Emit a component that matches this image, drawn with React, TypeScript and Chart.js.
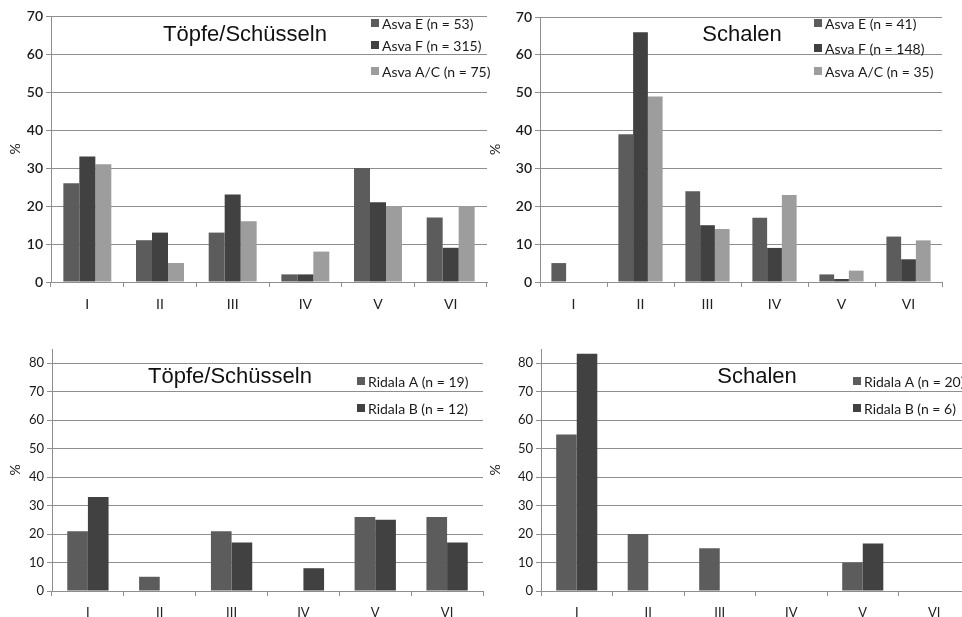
import React, { useEffect, useRef } from "react";
import { Chart, registerables } from "chart.js";

Chart.register(...registerables);

const categories = ["I", "II", "III", "IV", "V", "VI"];

// Top-left: Töpfe/Schüsseln (Asva)
const potsAsvaE = [26, 11, 13, 2, 30, 17];
const potsAsvaF = [33, 13, 23, 2, 21, 9];
const potsAsvaAC = [31, 5, 16, 8, 20, 20];
// Top-right: Schalen (Asva)
const bowlsAsvaE = [5, 39, 24, 17, 2, 12];
const bowlsAsvaF = [0, 66, 15, 9, 0.8, 6];
const bowlsAsvaAC = [0, 49, 14, 23, 3, 11];
// Bottom-left: Töpfe/Schüsseln (Ridala)
const potsRidalaA = [21, 5, 21, 0, 26, 26];
const potsRidalaB = [33, 0, 17, 8, 25, 17];
// Bottom-right: Schalen (Ridala)
const bowlsRidalaA = [55, 20, 15, 0, 10, 0];
const bowlsRidalaB = [83.3, 0, 0, 0, 16.7, 0];

const yTicksTop = [0, 10, 20, 30, 40, 50, 60, 70];
const yTicksBottom = [0, 10, 20, 30, 40, 50, 60, 70, 80];

const C_E = "#5c5c5c";
const C_F = "#414141";
const C_AC = "#9d9d9d";
const GRID = "#8e8e8e";

type PanelCfg = {
  left: number;
  top: number;
  w: number;
  h: number;
  ca: { l: number; t: number; r: number; b: number };
  yMax: number;
  yTicks: number[];
  title: string;
  titleX: number;
  titleY: number;
  legendX: number;
  legendRows: number[];
  legendFont: number;
  tickFont: number;
  yTickWeight: string;
  xPad: number;
  catPct: number;
  datasets: { label: string; data: number[]; color: string }[];
};

const panels: PanelCfg[] = [
  {
    left: 0, top: 0, w: 500, h: 310,
    ca: { l: 51, t: 16, r: 487, b: 282 },
    yMax: 70, yTicks: yTicksTop,
    title: "Töpfe/Schüsseln", titleX: 245, titleY: 35,
    legendX: 371, legendRows: [23, 45, 71], legendFont: 14,
    tickFont: 14, yTickWeight: "600", xPad: 9,
    catPct: 0.66,
    datasets: [
      { label: "Asva E (n = 53)", data: potsAsvaE, color: C_E },
      { label: "Asva F (n = 315)", data: potsAsvaF, color: C_F },
      { label: "Asva A/C (n = 75)", data: potsAsvaAC, color: C_AC },
    ],
  },
  {
    left: 480, top: 0, w: 482, h: 310,
    ca: { l: 60, t: 17, r: 462, b: 282 },
    yMax: 70, yTicks: yTicksTop,
    title: "Schalen", titleX: 262, titleY: 35,
    legendX: 334, legendRows: [23, 48, 71], legendFont: 14,
    tickFont: 14, yTickWeight: "600", xPad: 9,
    catPct: 0.66,
    datasets: [
      { label: "Asva E (n = 41)", data: bowlsAsvaE, color: C_E },
      { label: "Asva F (n = 148)", data: bowlsAsvaF, color: C_F },
      { label: "Asva A/C (n = 35)", data: bowlsAsvaAC, color: C_AC },
    ],
  },
  {
    left: 0, top: 310, w: 490, h: 307,
    ca: { l: 52, t: 39, r: 483, b: 281 },
    yMax: 85, yTicks: yTicksBottom,
    title: "Töpfe/Schüsseln", titleX: 230, titleY: 67,
    legendX: 357, legendRows: [71, 98], legendFont: 14,
    tickFont: 13, yTickWeight: "normal", xPad: 9,
    catPct: 0.575,
    datasets: [
      { label: "Ridala A (n = 19)", data: potsRidalaA, color: C_E },
      { label: "Ridala B (n = 12)", data: potsRidalaB, color: C_F },
    ],
  },
  {
    left: 480, top: 310, w: 492, h: 307,
    ca: { l: 61, t: 39, r: 490, b: 281 },
    yMax: 85, yTicks: yTicksBottom,
    title: "Schalen", titleX: 277, titleY: 67,
    legendX: 373, legendRows: [71, 98], legendFont: 14,
    tickFont: 13, yTickWeight: "normal", xPad: 9,
    catPct: 0.575,
    datasets: [
      { label: "Ridala A (n = 20)", data: bowlsRidalaA, color: C_E },
      { label: "Ridala B (n = 6)", data: bowlsRidalaB, color: C_F },
    ],
  },
];

const overlayPlugin = {
  id: "overlay",
  afterDraw(chart: any, _args: any, opts: any) {
    const ctx = chart.ctx;
    ctx.save();
    ctx.fillStyle = "#111";
    ctx.font = "22px 'Liberation Sans', Arial, sans-serif";
    ctx.textAlign = "center";
    ctx.textBaseline = "middle";
    ctx.fillText(opts.title, opts.titleX, opts.titleY);
    ctx.font = `${opts.legendFont}px Lato, 'Open Sans', sans-serif`;
    ctx.textAlign = "left";
    chart.data.datasets.forEach((ds: any, i: number) => {
      const y = opts.legendRows[i];
      ctx.fillStyle = ds.backgroundColor;
      ctx.fillRect(opts.legendX, y - 4, 8, 8);
      ctx.fillStyle = "#1a1a1a";
      ctx.fillText(ds.label, opts.legendX + 11, y + 1);
    });
    ctx.restore();
  },
};

function Panel({ cfg }: { cfg: PanelCfg }) {
  const ref = useRef<HTMLCanvasElement>(null);
  useEffect(() => {
    if (!ref.current) return;
    const family = "Lato, 'Open Sans', sans-serif";
    const chart = new Chart(ref.current, {
      type: "bar",
      data: {
        labels: categories,
        datasets: cfg.datasets.map((d) => ({
          label: d.label,
          data: d.data,
          backgroundColor: d.color,
          borderWidth: 0,
          barPercentage: 1,
          categoryPercentage: cfg.catPct,
        })),
      },
      options: {
        responsive: false,
        animation: false,
        devicePixelRatio: 1,
        layout: {
          padding: { left: 0, top: cfg.ca.t, right: cfg.w - cfg.ca.r, bottom: 0 },
        },
        plugins: {
          legend: { display: false },
          tooltip: { enabled: false },
          overlay: {
            title: cfg.title,
            titleX: cfg.titleX,
            titleY: cfg.titleY,
            legendX: cfg.legendX,
            legendRows: cfg.legendRows,
            legendFont: cfg.legendFont,
          },
        } as any,
        scales: {
          x: {
            offset: true,
            grid: {
              offset: true,
              drawOnChartArea: false,
              drawTicks: true,
              tickLength: 5,
              color: GRID,
            },
            border: { display: true, color: GRID, width: 1 },
            ticks: { color: "#222", font: { family, size: cfg.tickFont }, padding: cfg.xPad },
            afterFit: (s: any) => {
              s.height = cfg.h - cfg.ca.b;
            },
          },
          y: {
            min: 0,
            max: cfg.yMax,
            afterBuildTicks: (axis: any) => {
              axis.ticks = cfg.yTicks.map((v) => ({ value: v }));
            },
            ticks: {
              stepSize: 10,
              includeBounds: false,
              color: "#1a1a1a",
              font: { family, size: cfg.tickFont, weight: cfg.yTickWeight as any },
              padding: 3,
            },
            grid: { color: GRID, lineWidth: 1, tickLength: 5 },
            border: { display: true, color: GRID, width: 1 },
            title: {
              display: true,
              text: "%",
              color: "#222",
              font: { family, size: 14 },
              padding: { top: 7, bottom: 0 },
            },
            afterFit: (s: any) => {
              s.width = cfg.ca.l;
            },
          },
        },
      },
      plugins: [overlayPlugin],
    });
    return () => chart.destroy();
  }, [cfg]);
  return (
    <canvas
      ref={ref}
      width={cfg.w}
      height={cfg.h}
      style={{ position: "absolute", left: cfg.left, top: cfg.top, width: cfg.w, height: cfg.h }}
    />
  );
}

export default function App() {
  return (
    <div
      style={{
        position: "fixed",
        left: 0,
        top: 0,
        width: 962,
        height: 617,
        overflow: "hidden",
        background: "#fff",
      }}
    >
      {panels.map((p, i) => (
        <Panel key={i} cfg={p} />
      ))}
    </div>
  );
}
